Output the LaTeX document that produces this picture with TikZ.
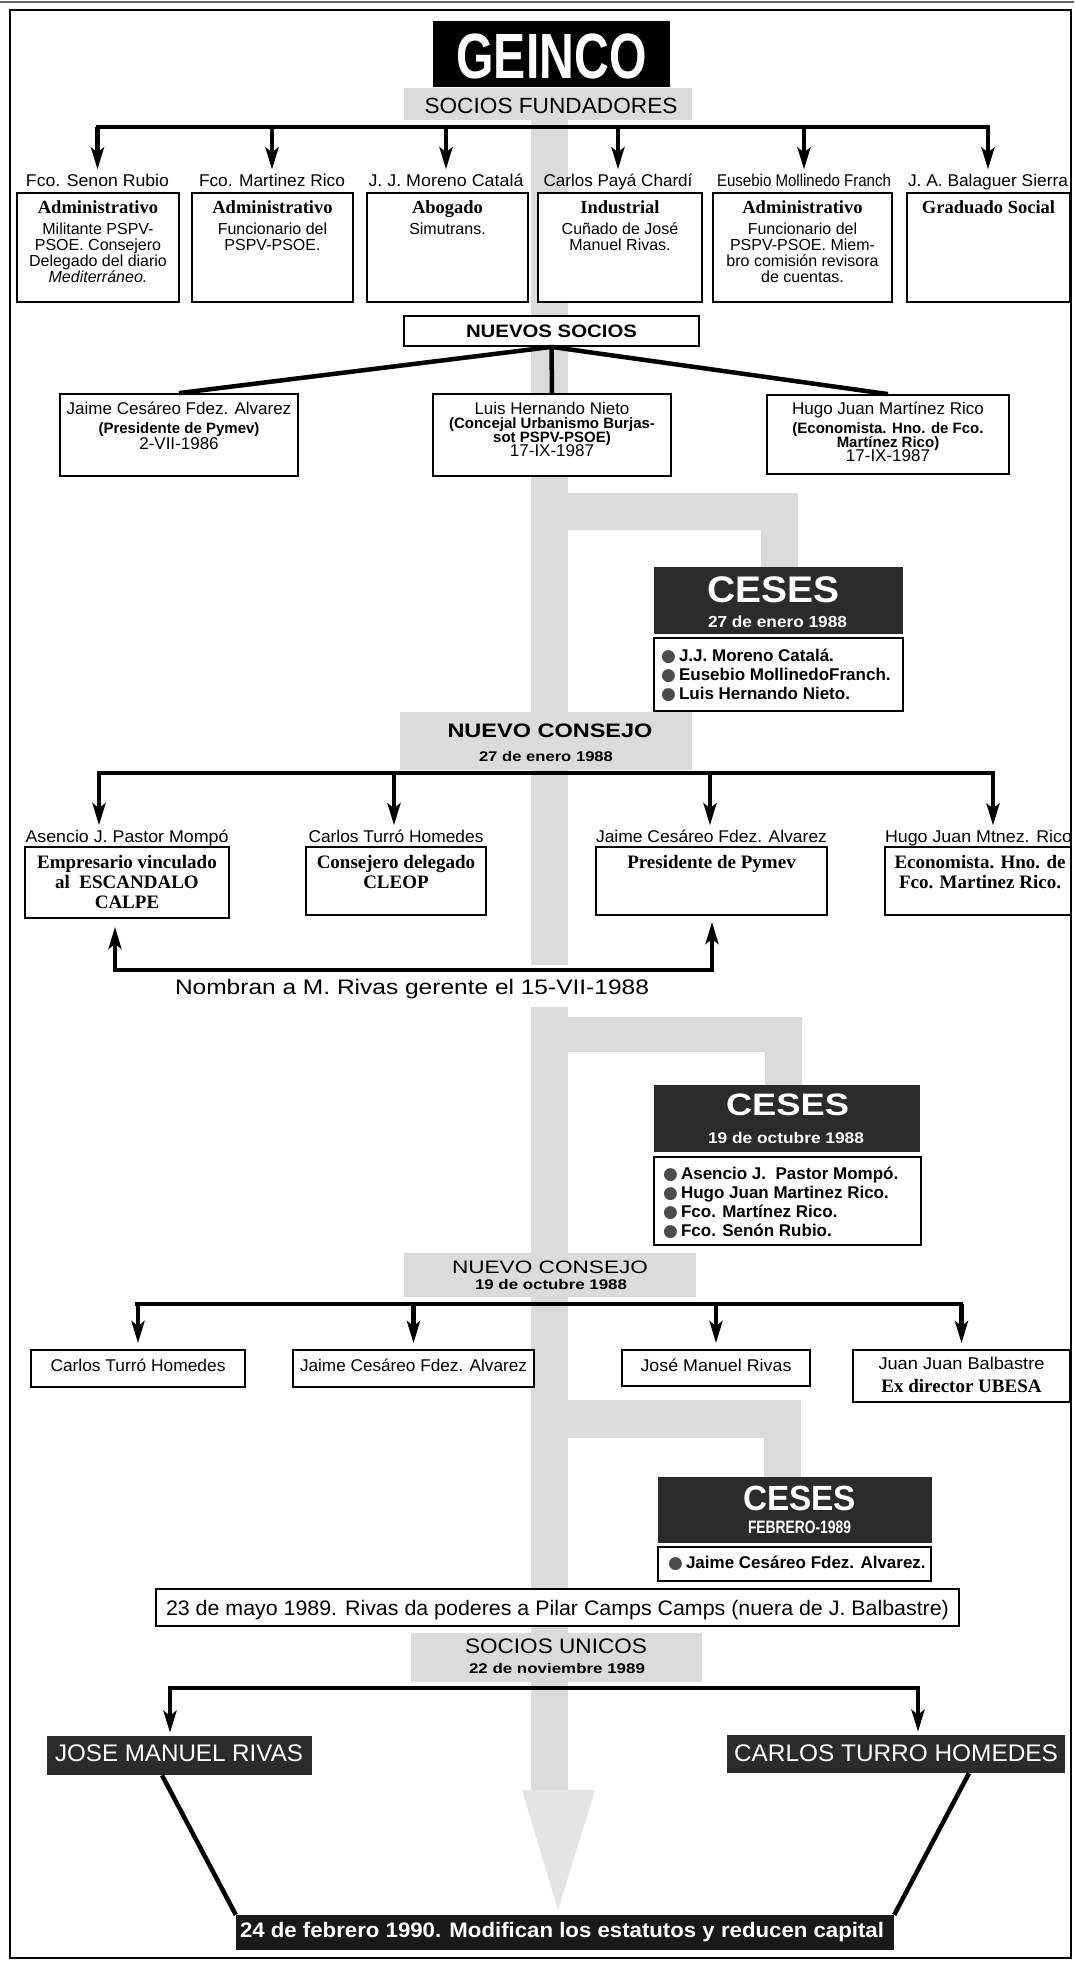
\documentclass[tikz,border=0pt]{standalone}
\usepackage{fontspec}
\usepackage{graphicx}
\setmainfont{Liberation Sans}
\newfontfamily\tms{Liberation Serif}
\newfontfamily\dvs{DejaVu Sans}
\usetikzlibrary{arrows.meta,fit}
\definecolor{band}{gray}{0.86}
\definecolor{dark}{gray}{0.17}
\newlength\fitlen
\makeatletter
\newcommand\fitto[2]{\settowidth\fitlen{#2}\edef\fitsc{\fpeval{(#1)/(\strip@pt\fitlen)}}\scalebox{\fitsc}[1]{#2}}
\makeatother
\newcommand\fsz[2]{\fontsize{#1}{#2}\selectfont}
\newcommand\st{\rule{0pt}{16pt}}
\newcommand\bul{{\dvs\textcolor{black!70}{●}}\hspace{3pt}}
\newcommand\hd[1]{{\tms\bfseries\fsz{18.5}{16}#1}}
\newcommand\bsm[1]{{\bfseries\fsz{15}{14}#1}}
\lineskiplimit=-100pt
\lineskip=0pt
\begin{document}
\begin{tikzpicture}[x=1pt,y=-1pt,
 conn/.style={line width=4.5pt},
 arr/.style={-{Stealth[length=22pt,width=13pt,inset=5pt]}},
 wbox/.style={draw,line width=1.8pt,fill=white,inner sep=0pt},
 dbox/.style={fill=dark,inner sep=0pt},
 lbl/.style={inner sep=0pt,anchor=base},
 nm/.style={inner sep=4pt,anchor=base,font=\fsz{17}{17}},
 bt/.style={inner sep=0pt,anchor=north,align=center,font=\fsz{16}{16}},
 pt2/.style={inner sep=0pt,anchor=north,align=center,font=\fsz{17}{14}},
 sb/.style={inner sep=0pt,anchor=north,align=center,font=\tms\bfseries\fsz{19}{20}},
 lst/.style={inner sep=0pt,anchor=north west,align=left,font=\bfseries\fsz{17}{19}},
 wt/.style={inner sep=0pt,anchor=base,text=white}]
\useasboundingbox (0,0) rectangle (1074,1963);
\fill[white] (0,0) rectangle (1074,1963);
% grey band
\fill[band] (404,88) rectangle (692,120);
\fill[band] (531,88) rectangle (568,965);
\fill[band] (531,493) rectangle (798,530);
\fill[band] (761,493) rectangle (798,567);
\fill[band] (400,712) rectangle (692,770);
\fill[band] (531,1007) rectangle (568,1792);
\fill[band] (531,1017) rectangle (802,1052);
\fill[band] (765,1017) rectangle (802,1085);
\fill[band] (404,1253) rectangle (696,1297);
\fill[band] (531,1400) rectangle (801,1438);
\fill[band] (764,1400) rectangle (801,1477);
\fill[band] (411,1633) rectangle (702,1682);
\fill[band!75] (522,1790) -- (595,1790) -- (558,1910) -- cycle;
% frame
\draw[line width=2pt] (10,10) rectangle (1071,1958);
\draw[line width=2.5pt,black!60] (0,2) -- (1074,2);

% title
\node[dbox,fill=black,fit={(433,21)(670,87)}] (geinco) {};
\node[wt,font=\fsz{64}{64}\bfseries] (geincot) at (551.5,78) {\fitto{190}{GEINCO}};
\node[lbl,font=\fsz{22}{22}] (sf) at (551,113) {\fitto{253}{SOCIOS FUNDADORES}};

% row 1
\coordinate (a1L) at (98,127);
\coordinate (a1R) at (988,127);
\node[nm] (n1) at (97.5,186) {\fitto{143}{Fco. Senon Rubio}};
\node[nm] (n2) at (272,186) {\fitto{146}{Fco. Martinez Rico}};
\node[nm] (n3) at (446,186) {\fitto{155}{J. J. Moreno Catalá}};
\node[nm] (n4) at (618,186) {\fitto{149}{Carlos Payá Chardí}};
\node[nm] (n5) at (804,186) {\fitto{174}{Eusebio Mollinedo Franch}};
\node[nm] (n6) at (988,186) {\fitto{160}{J. A. Balaguer Sierra}};
\draw[conn,line cap=rect] (a1L) -- (a1R);
\foreach \n in {n1,n2,n3,n4,n5,n6} \draw[conn,arr] (\n |- a1L) -- (\n.north);

\node[wbox,fit={(17,193)(179,302)}] (f1) {};
\node[wbox,fit={(192,193)(353,302)}] (f2) {};
\node[wbox,fit={(367,193)(528,302)}] (f3) {};
\node[wbox,fit={(538,193)(702,302)}] (f4) {};
\node[wbox,fit={(713,193)(892,302)}] (f5) {};
\node[wbox,fit={(907,193)(1070,302)}] (f6) {};
\node[bt] (f1t) at (98,197) {\st\hd{Administrativo}\\[5pt]Militante PSPV-\\PSOE. Consejero\\Delegado del diario\\\textit{Mediterráneo.}};
\node[bt] (f2t) at (272.5,197) {\st\hd{Administrativo}\\[5pt]Funcionario del\\PSPV-PSOE.};
\node[bt] (f3t) at (447.5,197) {\st\hd{Abogado}\\[5pt]Simutrans.};
\node[bt] (f4t) at (620,197) {\st\hd{Industrial}\\[5pt]Cuñado de José\\Manuel Rivas.};
\node[bt] (f5t) at (802.5,197) {\st\hd{Administrativo}\\[5pt]Funcionario del\\PSPV-PSOE. Miem-\\bro comisión revisora\\de cuentas.};
\node[bt] (f6t) at (988.5,197) {\st\hd{Graduado Social}};

% nuevos socios
\node[wbox,fit={(404,316)(699,346)}] (ns) {};
\node[lbl,font=\fsz{18}{18}\bfseries] (nst) at (551.5,337) {\fitto{171}{NUEVOS SOCIOS}};
\node[wbox,fit={(60,394)(298,476)}] (g1) {};
\node[wbox,fit={(433,394)(671,476)}] (g2) {};
\node[wbox,fit={(767,395)(1009,474)}] (g3) {};
\draw[conn] (ns.south) -- (g1.north);
\draw[conn] (ns.south) -- (g2.north);
\draw[conn] (ns.south) -- (g3.north);
\node[pt2] (g1t) at (179,398) {\st Jaime Cesáreo Fdez. Alvarez\\[5pt]\bsm{(Presidente de Pymev)}\\[2pt]2-VII-1986};
\node[pt2] (g2t) at (552,398) {\st Luis Hernando Nieto\\\bsm{(Concejal Urbanismo Burjas-}\\\bsm{sot PSPV-PSOE)}\\17-IX-1987};
\node[pt2] (g3t) at (888,398) {\st Hugo Juan Martínez Rico\\[5pt]\bsm{(Economista. Hno. de Fco.}\\\bsm{Martínez Rico)}\\17-IX-1987};

% ceses 1
\node[dbox,fit={(654,567)(903,634)}] (c1) {};
\node[wt,font=\fsz{37}{37}\bfseries] (c1h) at (773,602) {\fitto{132}{CESES}};
\node[wt,font=\fsz{16}{16}\bfseries] (c1d) at (777.5,627) {\fitto{139}{27 de enero 1988}};
\node[wbox,fit={(654,638)(903,711)}] (c1l) {};
\node[lst] (c1lt) at (661,645) {\st\bul J.J. Moreno Catalá.\\\bul Eusebio MollinedoFranch.\\\bul Luis Hernando Nieto.};

% nuevo consejo 1
\node[lbl,font=\fsz{19.5}{19.5}\bfseries] (nc1) at (550,737) {\fitto{205}{NUEVO CONSEJO}};
\node[lbl,font=\fsz{14}{14}\bfseries] (nc1d) at (546,761.5) {\fitto{134}{27 de enero 1988}};
\coordinate (b2L) at (99,773);
\coordinate (b2R) at (993,773);
\coordinate (k1) at (99,773);
\coordinate (k2) at (394,773);
\coordinate (k3) at (710,773);
\coordinate (k4) at (993,773);
\node[nm] (m1) at (127,842) {\fitto{203}{Asencio J. Pastor Mompó}};
\node[nm] (m2) at (396,842) {\fitto{175}{Carlos Turró Homedes}};
\node[nm] (m3) at (711.5,842) {\fitto{231}{Jaime Cesáreo Fdez. Alvarez}};
\node[nm] (m4) at (978.5,842) {\fitto{187}{Hugo Juan Mtnez. Rico}};
\draw[conn,line cap=rect] (b2L) -- (b2R);
\draw[conn,arr] (k1) -- (k1 |- m1.north);
\draw[conn,arr] (k2) -- (k2 |- m2.north);
\draw[conn,arr] (k3) -- (k3 |- m3.north);
\draw[conn,arr] (k4) -- (k4 |- m4.north);
\node[wbox,fit={(25,847)(229,918)}] (h1) {};
\node[wbox,fit={(306,847)(486,915)}] (h2) {};
\node[wbox,fit={(596,847)(827,915)}] (h3) {};
\node[wbox,fit={(885,847)(1071,915)}] (h4) {};
\node[sb] (h1t) at (127,852) {\st Empresario vinculado\\al\ \ ESCANDALO\\CALPE};
\node[sb] (h2t) at (396,852) {\st Consejero delegado\\CLEOP};
\node[sb] (h3t) at (711.5,852) {\st Presidente de Pymev};
\node[sb] (h4t) at (980,852) {\st Economista. Hno. de\\Fco. Martinez Rico.};
\coordinate (q1) at (115,970);
\coordinate (q2) at (712,970);
\draw[conn,line cap=rect] (q1) -- (q2);
\draw[conn,arr,shorten >=8pt] (q1) -- (q1 |- h1.south);
\draw[conn,arr,shorten >=6pt] (q2) -- (q2 |- h3.south);
\node[lbl,font=\fsz{21}{21}] (nomb) at (412,994) {\fitto{474}{Nombran a M. Rivas gerente el 15-VII-1988}};

% ceses 2
\node[dbox,fit={(654,1085)(920,1152)}] (c2) {};
\node[wt,font=\fsz{31}{31}\bfseries] (c2h) at (787.5,1115) {\fitto{123}{CESES}};
\node[wt,font=\fsz{15.5}{15.5}\bfseries] (c2d) at (786,1143) {\fitto{156}{19 de octubre 1988}};
\node[wbox,fit={(654,1157)(921,1245)}] (c2l) {};
\node[lst] (c2lt) at (663,1163) {\st\bul Asencio J.\ \ Pastor Mompó.\\\bul Hugo Juan Martinez Rico.\\\bul Fco. Martínez Rico.\\\bul Fco. Senón Rubio.};

% nuevo consejo 2
\node[lbl,font=\fsz{18}{18}] (nc2) at (550,1273) {\fitto{196}{NUEVO CONSEJO}};
\node[lbl,font=\fsz{14}{14}\bfseries] (nc2d) at (551,1289) {\fitto{152}{19 de octubre 1988}};
\coordinate (b3L) at (137,1304);
\coordinate (b3R) at (961,1304);
\node[wbox,fit={(31,1350)(245,1387)}] (e1) {};
\node[wbox,fit={(293,1350)(534,1387)}] (e2) {};
\node[wbox,fit={(622,1350)(810,1386)}] (e3) {};
\node[wbox,fit={(853,1350)(1070,1402)}] (e4) {};
\node[lbl,font=\fsz{17}{17}] (e1t) at (138,1371) {\fitto{175}{Carlos Turró Homedes}};
\node[lbl,font=\fsz{17}{17}] (e2t) at (413.5,1371) {\fitto{227}{Jaime Cesáreo Fdez. Alvarez}};
\node[lbl,font=\fsz{17}{17}] (e3t) at (716,1371) {\fitto{151}{José Manuel Rivas}};
\node[bt,font=\fsz{17}{20}] (e4t) at (961.5,1353) {\st\fitto{166}{Juan Juan Balbastre}\\[3pt]{\tms\bfseries\fsz{19}{20}Ex director UBESA}};
\draw[conn,line cap=rect] (b3L) -- (b3R);
\draw[conn,arr,shorten >=6pt] (e1 |- b3L) -- (e1.north);
\draw[conn,arr,shorten >=6pt] (e2 |- b3L) -- (e2.north);
\draw[conn,arr,shorten >=6pt] (e3 |- b3L) -- (e3.north);
\draw[conn,arr,shorten >=6pt] (e4 |- b3L) -- (e4.north);

% ceses 3
\node[dbox,fit={(658,1477)(932,1543)}] (c3) {};
\node[wt,font=\fsz{35}{35}\bfseries] (c3h) at (799.5,1510) {\fitto{113}{CESES}};
\node[wt,font=\fsz{18}{18}\bfseries] (c3d) at (799.5,1533) {\fitto{103}{FEBRERO-1989}};
\node[wbox,fit={(658,1547)(931,1581)}] (c3l) {};
\node[lst] (c3lt) at (668,1552) {\st\bul Jaime Cesáreo Fdez. Alvarez.};

% mayo
\node[wbox,fit={(156,1589)(959,1626)}] (mayo) {};
\node[lbl,font=\fsz{21}{21}] (mayot) at (557.5,1615.5) {\fitto{783}{23 de mayo 1989. Rivas da poderes a Pilar Camps Camps (nuera de J. Balbastre)}};

% socios unicos
\node[lbl,font=\fsz{21}{21}] (su) at (556,1653) {\fitto{182}{SOCIOS UNICOS}};
\node[lbl,font=\fsz{14}{14}\bfseries] (sud) at (557,1673) {\fitto{176}{22 de noviembre 1989}};
\coordinate (u1) at (170,1688);
\coordinate (u2) at (918,1688);
\node[dbox,fit={(47,1736)(312,1775)}] (jmr) {};
\node[dbox,fit={(727,1735)(1065,1773)}] (cth) {};
\node[wt,font=\fsz{24}{24}] (jmrt) at (179,1761.5) {\fitto{248}{JOSE MANUEL RIVAS}};
\node[wt,font=\fsz{24}{24}] (ctht) at (896,1761) {\fitto{324}{CARLOS TURRO HOMEDES}};
\draw[conn,line cap=rect] (u1) -- (u2);
\draw[conn,arr,shorten >=3pt] (u1) -- (u1 |- jmr.north);
\draw[conn,arr,shorten >=3pt] (u2) -- (u2 |- cth.north);
\node[dbox,fill=black!90,fit={(236,1915)(894,1950)}] (fin) {};
\node[wt,font=\fsz{21}{21}\bfseries] (fint) at (562,1937.5) {\fitto{644}{24 de febrero 1990. Modifican los estatutos y reducen capital}};
\draw[conn] ([xshift=-17.5pt]jmr.south) -- (fin.north west);
\draw[conn] ([xshift=73pt]cth.south) -- (fin.north east);
\end{tikzpicture}
\end{document}
